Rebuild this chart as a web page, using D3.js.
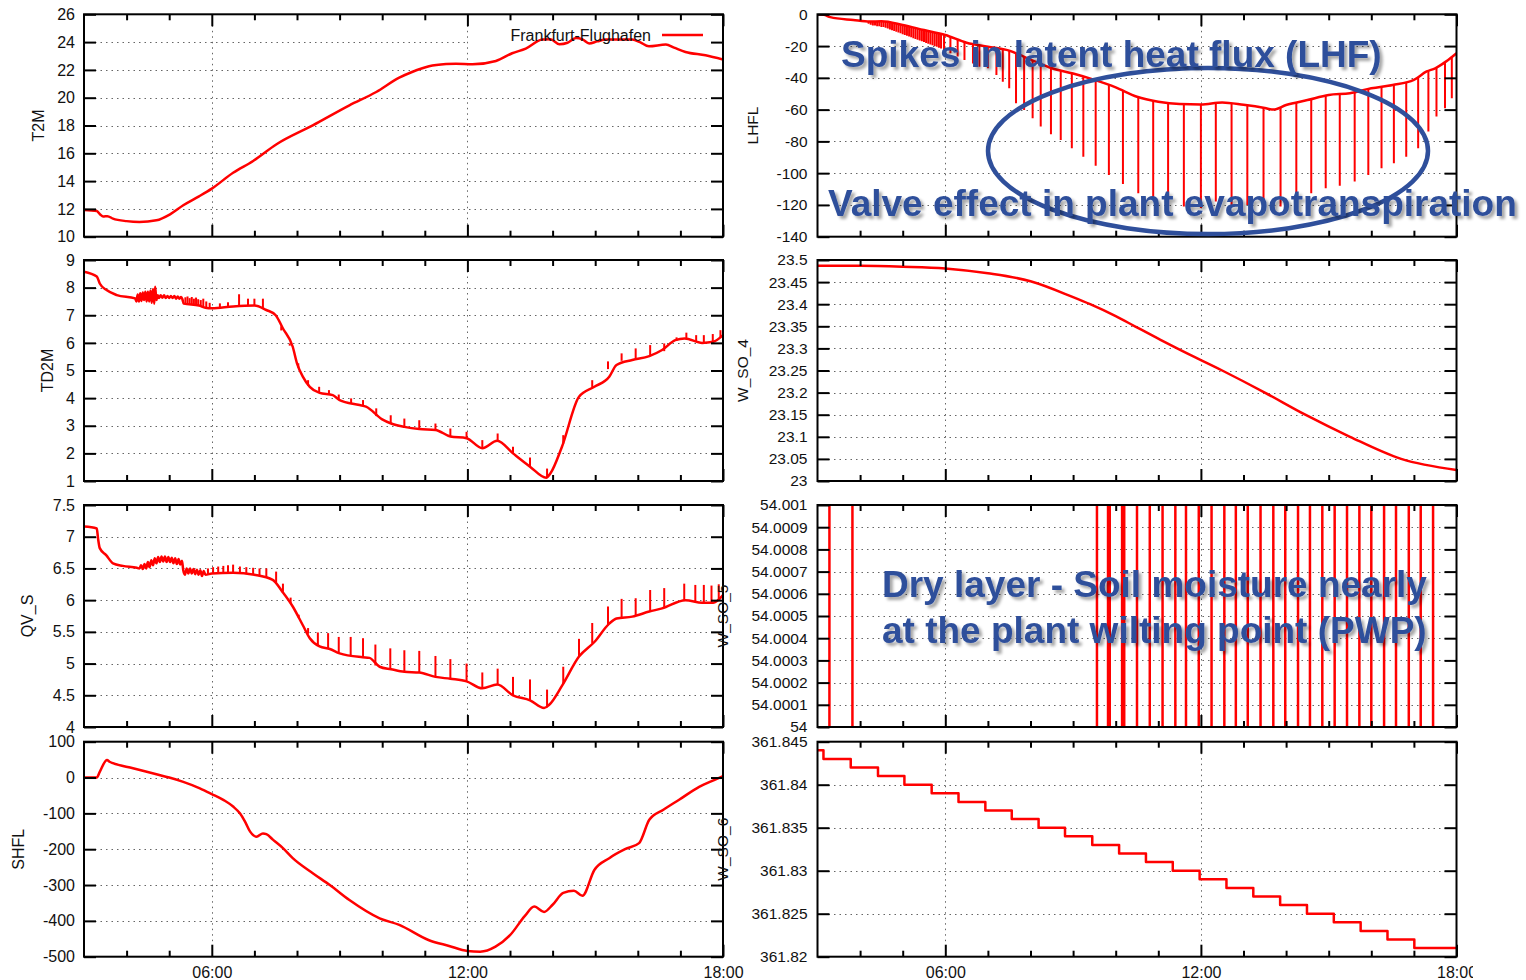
<!DOCTYPE html>
<html>
<head>
  <meta charset="utf-8">
  <title>Frankfurt-Flughafen</title>
  <style>
    body { margin: 0; background: #fff; }
  </style>
</head>
<body>
  <svg id="chart"></svg>
  <script src="https://cdnjs.cloudflare.com/ajax/libs/d3/7.8.5/d3.min.js"></script>
  <script>
    // ---- time axis (hours of the day) ----
    const minorHours = [4, 5, 7, 8, 9, 10, 11, 13, 14, 15, 16, 17];
    const majorHours = [6, 12, 18];
    const hourLabels = ["06:00", "12:00", "18:00"];
    const gridHours = [6, 12];

    // ---- y tick values ----
    const t2mTicks = [10, 12, 14, 16, 18, 20, 22, 24, 26];
    const td2mTicks = [1, 2, 3, 4, 5, 6, 7, 8, 9];
    const qvsTicks = [4, 4.5, 5, 5.5, 6, 6.5, 7, 7.5];
    const shflTicks = [-500, -400, -300, -200, -100, 0, 100];
    const lhflTicks = [-140, -120, -100, -80, -60, -40, -20, 0];
    const wso4Ticks = [23, 23.05, 23.1, 23.15, 23.2, 23.25, 23.3, 23.35, 23.4, 23.45, 23.5];
    const wso5Ticks = [54, 54.0001, 54.0002, 54.0003, 54.0004, 54.0005, 54.0006, 54.0007, 54.0008, 54.0009, 54.001];
    const wso6Ticks = [361.82, 361.825, 361.83, 361.835, 361.84, 361.845];

    // ---- series: [hour, value] ----
    const t2mSeries = [[3,11.92],[3.3,11.85],[3.38,11.6],[3.45,11.45],[3.55,11.48],[3.68,11.3],[4.0,11.12],[4.3,11.06],
      [4.7,11.18],[5.02,11.61],[5.33,12.26],[5.7,12.9],[6.0,13.46],[6.5,14.6],[6.97,15.45],[7.52,16.65],[8.37,18.01],
      [9.23,19.45],[9.86,20.41],[10.4,21.44],[10.7,21.85],[11.1,22.26],[11.5,22.42],[11.73,22.45],[12.12,22.4],
      [12.67,22.64],[13.05,23.2],[13.37,23.53],[13.76,24.18],[13.95,24.2],[14.16,23.84],[14.35,23.95],[14.55,24.3],
      [14.7,24.2],[14.86,23.9],[15.05,24.05],[15.25,24.18],[15.87,24.18],[16.05,24.0],[16.26,23.7],[16.66,23.82],
      [16.85,23.6],[17.12,23.29],[17.59,23.05],[18,22.74]];

    const td2mSeries = [[3,8.58],[3.3,8.4],[3.37,8.15],[3.53,7.91],[3.77,7.73],[4.2,7.61],
      [4.23,7.5],[4.26,7.75],[4.29,7.5],[4.32,7.8],[4.35,7.52],[4.38,7.82],[4.41,7.55],[4.44,7.85],[4.47,7.5],
      [4.5,7.85],[4.53,7.5],[4.56,7.9],[4.59,7.45],[4.62,7.95],[4.65,7.42],[4.67,8.03],[4.7,7.55],[4.73,7.72],
      [4.76,7.62],[4.8,7.72],[4.84,7.63],[4.88,7.72],[4.92,7.62],[4.96,7.7],[5.0,7.62],[5.04,7.7],[5.08,7.62],
      [5.12,7.7],[5.16,7.6],[5.2,7.68],[5.24,7.6],[5.28,7.66],[5.31,7.58],[5.34,7.42],[5.7,7.35],[5.85,7.27],
      [6.0,7.25],[6.5,7.32],[7.0,7.35],[7.28,7.19],[7.5,7.0],[7.67,6.52],[7.9,5.86],[8.0,5.26],[8.14,4.77],
      [8.3,4.41],[8.53,4.19],[8.84,4.11],[9.0,3.93],[9.47,3.75],[9.62,3.69],[10.0,3.23],[10.21,3.08],[10.52,2.96],
      [10.87,2.88],[11.25,2.85],[11.6,2.61],[11.98,2.55],[12.35,2.19],[12.7,2.46],[13.07,2.0],[13.47,1.52],
      [13.85,1.12],[13.95,1.28],[14.22,2.24],[14.62,4.05],[14.98,4.41],[15.33,4.77],[15.5,5.2],[15.87,5.38],
      [16.27,5.52],[16.57,5.74],[16.88,6.1],[17.1,6.16],[17.51,6.0],[17.77,6.04],[18,6.28]];
    // spikes: [hour, value on the curve, tip value]
    const td2mSpikes = [[5.38,7.42,7.65],[5.43,7.41,7.68],[5.48,7.4,7.62],[5.53,7.4,7.66],[5.58,7.38,7.6],
      [5.63,7.37,7.64],[5.68,7.35,7.58],[5.74,7.32,7.55],[5.8,7.3,7.6],[5.87,7.27,7.5],[5.95,7.25,7.45],
      [6.19,7.28,7.43],[6.38,7.3,7.47],[6.64,7.33,7.76],[6.85,7.34,7.6],[7.0,7.35,7.6],[7.2,7.25,7.6],
      [7.63,6.45,6.6],[7.83,5.9,5.98],[8.03,5.1,5.26],[8.26,4.45,4.65],[8.52,4.2,4.41],[8.75,4.12,4.29],
      [8.98,3.95,4.13],[9.27,3.8,3.99],[9.55,3.72,3.93],[9.86,3.35,3.63],[10.2,3.08,3.38],[10.52,2.96,3.26],
      [10.87,2.88,3.2],[11.25,2.82,3.08],[11.6,2.61,2.9],[11.98,2.55,2.78],[12.35,2.19,2.48],[12.71,2.46,2.72],
      [13.07,2.0,2.24],[13.47,1.52,1.85],[13.87,1.12,1.45],[14.25,2.35,2.66],[14.93,4.38,4.65],[15.3,5.05,5.33],
      [15.62,5.35,5.62],[15.95,5.45,5.8],[16.29,5.52,5.92],[16.62,5.7,5.98],[16.91,6.08,6.2],[17.14,6.16,6.37],
      [17.37,6.05,6.28],[17.55,6.0,6.28],[17.76,6.02,6.32],[17.94,6.2,6.46]];

    const qvsSeries = [[3,7.16],[3.3,7.13],[3.33,6.97],[3.37,6.82],[3.52,6.71],[3.68,6.58],[3.91,6.54],[4.24,6.51],
      [4.3,6.5],[4.34,6.55],[4.38,6.49],[4.42,6.57],[4.46,6.5],[4.5,6.6],[4.54,6.52],[4.58,6.63],[4.62,6.55],
      [4.66,6.66],[4.7,6.58],[4.74,6.68],[4.78,6.6],[4.82,6.69],[4.86,6.61],[4.9,6.69],[4.94,6.6],[4.98,6.68],
      [5.02,6.6],[5.06,6.67],[5.1,6.58],[5.14,6.66],[5.18,6.57],[5.22,6.65],[5.26,6.56],[5.3,6.62],[5.33,6.47],
      [5.37,6.4],[5.41,6.5],[5.45,6.42],[5.49,6.5],[5.53,6.42],[5.57,6.49],[5.61,6.41],[5.65,6.48],[5.69,6.4],
      [5.73,6.47],[5.77,6.38],[5.81,6.46],[5.85,6.4],[6.0,6.42],[6.5,6.43],[7.0,6.4],[7.43,6.32],[7.66,6.13],
      [7.9,5.9],[8.14,5.6],[8.3,5.4],[8.53,5.27],[8.77,5.23],[9.0,5.16],[9.54,5.1],[9.7,5.09],[9.94,4.95],
      [10.21,4.91],[10.52,4.87],[10.87,4.86],[11.25,4.79],[11.6,4.76],[11.98,4.72],[12.35,4.61],[12.7,4.67],
      [13.07,4.5],[13.47,4.42],[13.8,4.3],[13.92,4.35],[14.23,4.66],[14.62,5.11],[14.98,5.34],[15.33,5.63],
      [15.5,5.71],[15.87,5.74],[16.27,5.82],[16.57,5.87],[17.12,6.0],[17.51,5.96],[17.77,5.96],[18,6.08]];
    const qvsSpikes = [[5.91,6.41,6.5],[6.03,6.42,6.52],[6.15,6.42,6.53],[6.27,6.42,6.54],[6.38,6.43,6.55],
      [6.5,6.43,6.56],[6.66,6.42,6.53],[6.81,6.41,6.52],[6.97,6.4,6.51],[7.12,6.38,6.5],[7.28,6.35,6.5],
      [7.51,6.28,6.45],[7.67,6.13,6.26],[7.85,5.95,6.04],[8.04,5.72,5.77],[8.26,5.47,5.56],[8.49,5.28,5.49],
      [8.73,5.24,5.48],[8.98,5.17,5.42],[9.26,5.12,5.42],[9.55,5.1,5.4],[9.84,4.97,5.3],[10.19,4.91,5.24],
      [10.52,4.87,5.21],[10.87,4.86,5.2],[11.25,4.79,5.12],[11.6,4.76,5.07],[11.98,4.72,5.0],[12.35,4.61,4.86],
      [12.71,4.67,4.92],[13.07,4.5,4.79],[13.47,4.42,4.75],[13.87,4.31,4.59],[14.25,4.68,4.95],[14.62,5.11,5.39],
      [14.93,5.32,5.64],[15.3,5.6,5.9],[15.62,5.72,6.02],[15.95,5.76,6.03],[16.29,5.82,6.16],[16.62,5.88,6.19],
      [17.09,5.99,6.26],[17.35,5.97,6.24],[17.55,5.96,6.24],[17.73,5.96,6.23],[17.9,6.0,6.25]];

    const shflSeries = [[3,0],[3.3,0],[3.37,16],[3.54,49],[3.6,44],[3.68,40],[4.15,26],[4.7,9],[5.0,0],[5.33,-12],
      [5.72,-30],[6,-46],[6.28,-63],[6.5,-81],[6.66,-100],[6.78,-123],[6.9,-151],[7.05,-165],[7.2,-156],
      [7.28,-158],[7.44,-174],[7.67,-197],[7.9,-225],[8.37,-267],[8.77,-300],[9.23,-342],[9.94,-393],[10.4,-411],
      [11.1,-454],[11.57,-470],[12,-484],[12.3,-486],[12.66,-472],[13,-440],[13.35,-386],[13.57,-360],[13.8,-375],
      [14.0,-355],[14.25,-322],[14.5,-316],[14.7,-330],[14.98,-258],[15.33,-225],[15.7,-200],[16.03,-183],
      [16.27,-118],[16.6,-90],[16.97,-62],[17.44,-26],[17.79,-7],[18,4]];

    const lhflSeries = [[3,0],[3.15,-0.3],[3.3,-1.8],[3.84,-3.6],[4.23,-4.6],[4.5,-4.4],[5,-6.7],[5.5,-9.9],
      [6,-13],[6.5,-17.9],[7,-20.4],[7.5,-22.9],[8,-28.5],[8.5,-34],[9,-37.3],[9.5,-41.3],[10,-46],[10.5,-51.9],
      [11,-55],[11.5,-56.5],[12,-56.8],[12.5,-55.5],[13,-57],[13.5,-59],[13.7,-60],[14,-57.1],[14.5,-54],
      [15,-50.8],[15.5,-49.7],[16,-46.6],[16.5,-44.5],[17,-41.3],[17.3,-36],[17.5,-34],[17.75,-29.8],[18,-24.5]];
    const lhflSpikes = [[4.2,-4.6,-6],[4.25,-4.6,-6.5],[4.3,-4.5,-7],[4.35,-4.5,-7],[4.4,-4.5,-7.5],[4.45,-4.4,-7.5],
      [4.5,-4.4,-8],[4.55,-4.6,-8],[4.6,-4.8,-8.5],[4.65,-5,-9],[4.7,-5.2,-9.5],[4.75,-5.4,-10],[4.8,-5.7,-10.5],
      [4.85,-6,-11],[4.9,-6.2,-11.5],[4.95,-6.5,-12],[5.0,-6.7,-12.5],[5.05,-7,-13],[5.1,-7.3,-13.5],
      [5.15,-7.6,-14],[5.2,-8,-14.5],[5.25,-8.3,-15],[5.3,-8.6,-15.5],[5.35,-9,-16],[5.4,-9.3,-16.5],
      [5.45,-9.6,-17],[5.5,-9.9,-17.5],[5.55,-10.2,-18],[5.6,-10.6,-18.5],[5.65,-11,-19],[5.7,-11.3,-19.5],
      [5.75,-11.7,-20],[5.8,-12,-20.5],[5.85,-12.4,-21],[5.9,-12.7,-21.5],
      [5.97,-13,-22.5],[6.12,-14.5,-24.5],[6.29,-16,-26.6],[6.45,-17.5,-28.8],[6.65,-18.5,-30.9],[6.8,-19.4,-33],
      [7.0,-20.4,-34],[7.2,-21.4,-38.2],[7.35,-22.2,-42.4],[7.5,-22.9,-46.6],[7.66,-24.5,-56],[7.85,-26.8,-60.2],
      [8.05,-29,-65.5],[8.24,-31.2,-70.7],[8.48,-33.8,-75.5],[8.71,-35.5,-79.1],[8.97,-37.3,-84.3],
      [9.24,-39.2,-89.6],[9.53,-41.6,-95.3],[9.84,-44.5,-101.1],[10.17,-47.8,-106.8],[10.53,-52,-112.7],
      [10.88,-54.3,-116.9],[11.23,-55.8,-120],[11.6,-56.6,-121],[12.0,-56.8,-122],[12.35,-55.8,-117.9],
      [12.72,-56,-120],[13.09,-57.3,-120],[13.47,-59,-119],[13.87,-58.3,-121],[14.24,-55.8,-114.8],
      [14.59,-53.5,-112.7],[14.93,-51.2,-109.5],[15.26,-50.2,-108],[15.61,-49.2,-105.3],[15.93,-47,-101.1],
      [16.24,-45.5,-96.9],[16.53,-44.3,-93.7],[16.82,-42.8,-89.6],[17.1,-40,-84.3],[17.34,-35.6,-73.8],
      [17.53,-33.6,-64.4],[17.73,-30.2,-59.1],[17.89,-26.8,-52.8]];

    const wso4Series = [[3,23.487],[4,23.487],[5,23.485],[6,23.481],[7,23.47],[8,23.452],[9,23.416],[9.4,23.4],
      [10,23.373],[10.45,23.35],[11,23.322],[11.5,23.297],[12.5,23.25],[13.5,23.2],[14.45,23.15],[15.5,23.1],
      [16.7,23.05],[18,23.025]];

    // hours where W_SO_5 jumps right through the plotted range
    const wso5Jumps = [3.28, 3.82, 9.56, 9.82, 9.86, 10.15, 10.2, 10.5, 10.8, 11.1, 11.4, 11.65, 11.95, 12.25,
      12.55, 12.82, 13.1, 13.4, 13.7, 13.98, 14.28, 14.56, 14.85, 15.14, 15.43, 15.72, 16.0, 16.3, 16.58, 16.88,
      17.16, 17.45];

    const wso6Series = [[3,361.844],[3.14,361.843],[3.78,361.842],[4.42,361.841],[5.04,361.840],[5.68,361.839],
      [6.31,361.838],[6.94,361.837],[7.56,361.836],[8.19,361.835],[8.81,361.834],[9.45,361.833],[10.08,361.832],
      [10.71,361.831],[11.34,361.830],[11.97,361.829],[12.6,361.828],[13.23,361.827],[13.86,361.826],
      [14.49,361.825],[15.12,361.824],[15.75,361.823],[16.38,361.822],[17.01,361.821],[18,361.821]];

    // ---- layout ----
    const FONT = '"Liberation Sans", Arial, Helvetica, sans-serif';
    const RED = "#ff0000";
    const BLUE = "#2f4f9b";
    const columns = [
      { left: 84, right: 723, font: 16, pad: 9 },
      { left: 817.5, right: 1456.5, font: 15.5, pad: 10 }
    ];
    const rows = [
      { top: 14.3, bottom: 236.7 },
      { top: 260, bottom: 481 },
      { top: 505, bottom: 727 },
      { top: 741.7, bottom: 956.7 }
    ];

    const panels = [
      { col: 0, row: 0, name: "T2M", ticks: t2mTicks, series: t2mSeries, labelX: 38, legend: true },
      { col: 0, row: 1, name: "TD2M", ticks: td2mTicks, series: td2mSeries, spikes: td2mSpikes, labelX: 47 },
      { col: 0, row: 2, name: "QV_S", ticks: qvsTicks, series: qvsSeries, spikes: qvsSpikes, labelX: 27 },
      { col: 0, row: 3, name: "SHFL", ticks: shflTicks, series: shflSeries, labelX: 18 },
      { col: 1, row: 0, name: "LHFL", ticks: lhflTicks, series: lhflSeries, spikes: lhflSpikes, labelX: 752 },
      { col: 1, row: 1, name: "W_SO_4", ticks: wso4Ticks, series: wso4Series, labelX: 742 },
      { col: 1, row: 2, name: "W_SO_5", ticks: wso5Ticks, jumps: wso5Jumps, labelX: 722 },
      { col: 1, row: 3, name: "W_SO_6", ticks: wso6Ticks, series: wso6Series, step: true, labelX: 722 }
    ];

    const svg = d3.select("#chart").attr("width", 1526).attr("height", 980);
    const defs = svg.append("defs");
    defs.append("clipPath").attr("id", "page-clip")
      .append("rect").attr("x", 0).attr("y", 0).attr("width", 1473).attr("height", 980);
    const shadow = defs.append("filter").attr("id", "shadow")
      .attr("x", "-5%").attr("y", "-30%").attr("width", "115%").attr("height", "170%");
    shadow.append("feDropShadow").attr("dx", 3).attr("dy", 3).attr("stdDeviation", 1.6)
      .attr("flood-color", "#000").attr("flood-opacity", 0.35);

    const chart = svg.append("g").attr("clip-path", "url(#page-clip)");

    function styleAxis(a, fontSize) {
      a.select(".domain").remove();
      a.attr("font-family", FONT);
      a.selectAll("line").attr("stroke", "#000").attr("stroke-width", 2);
      a.selectAll("text").attr("font-size", fontSize).attr("fill", "#111");
    }

    panels.forEach((p, i) => {
      const c = columns[p.col], r = rows[p.row];
      const x = d3.scaleLinear().domain([3, 18]).range([c.left, c.right]);
      const y = d3.scaleLinear().domain(d3.extent(p.ticks)).range([r.bottom, r.top]);
      const g = chart.append("g");

      // dotted grid
      const grid = g.append("g").attr("stroke", "#666").attr("stroke-width", 1).attr("stroke-dasharray", "1.5,4");
      grid.selectAll(".h").data(p.ticks.slice(1, -1)).join("line").attr("class", "h")
        .attr("x1", c.left).attr("x2", c.right)
        .attr("y1", d => Math.round(y(d)) + 0.5).attr("y2", d => Math.round(y(d)) + 0.5);
      grid.selectAll(".v").data(gridHours).join("line").attr("class", "v")
        .attr("x1", d => Math.round(x(d)) + 0.5).attr("x2", d => Math.round(x(d)) + 0.5)
        .attr("y1", r.top).attr("y2", r.bottom);

      // key box hides the grid behind it
      if (p.legend) {
        g.append("rect").attr("x", 468).attr("y", r.top + 1).attr("width", c.right - 469).attr("height", 28.5)
          .attr("fill", "#fff");
      }

      // data, clipped to the plot box
      const clipId = "clip" + i;
      defs.append("clipPath").attr("id", clipId).append("rect")
        .attr("x", c.left).attr("y", r.top).attr("width", c.right - c.left).attr("height", r.bottom - r.top);
      const plot = g.append("g").attr("clip-path", `url(#${clipId})`);

      if (p.series) {
        const line = d3.line().x(d => x(d[0])).y(d => y(d[1]))
          .curve(p.step ? d3.curveStepAfter : d3.curveMonotoneX);
        plot.append("path").datum(p.series).attr("d", line)
          .attr("fill", "none").attr("stroke", RED).attr("stroke-width", 2.5).attr("stroke-linejoin", "round");
      }
      if (p.spikes) {
        plot.selectAll(".spike").data(p.spikes).join("line").attr("class", "spike")
          .attr("x1", d => x(d[0])).attr("x2", d => x(d[0]))
          .attr("y1", d => y(d[1])).attr("y2", d => y(d[2]))
          .attr("stroke", RED).attr("stroke-width", 2);
      }
      if (p.jumps) {
        plot.selectAll(".jump").data(p.jumps).join("line").attr("class", "jump")
          .attr("x1", d => x(d)).attr("x2", d => x(d))
          .attr("y1", y(y.domain()[0])).attr("y2", y(y.domain()[1]))
          .attr("stroke", RED).attr("stroke-width", 2.5);
      }

      // axes: inward ticks, mirrored
      g.append("g").attr("transform", `translate(${c.left},0)`)
        .call(d3.axisLeft(y).tickValues(p.ticks).tickSize(-12).tickPadding(c.pad).tickFormat(d => String(d)))
        .call(a => styleAxis(a, c.font));
      g.append("g").attr("transform", `translate(${c.right},0)`)
        .call(d3.axisRight(y).tickValues(p.ticks).tickSize(-12).tickFormat(""))
        .call(a => styleAxis(a, c.font));
      g.append("g").attr("transform", `translate(0,${r.bottom})`)
        .call(d3.axisBottom(x).tickValues(majorHours).tickSize(-12).tickPadding(10)
          .tickFormat((d, k) => p.row === 3 ? hourLabels[k] : ""))
        .call(a => styleAxis(a, 16));
      g.append("g").attr("transform", `translate(0,${r.bottom})`)
        .call(d3.axisBottom(x).tickValues(minorHours).tickSize(-6).tickFormat(""))
        .call(a => styleAxis(a, 16));
      g.append("g").attr("transform", `translate(0,${r.top})`)
        .call(d3.axisTop(x).tickValues(majorHours).tickSize(-12).tickFormat(""))
        .call(a => styleAxis(a, 16));
      g.append("g").attr("transform", `translate(0,${r.top})`)
        .call(d3.axisTop(x).tickValues(minorHours).tickSize(-6).tickFormat(""))
        .call(a => styleAxis(a, 16));

      // frame
      g.append("rect").attr("x", c.left).attr("y", r.top)
        .attr("width", c.right - c.left).attr("height", r.bottom - r.top)
        .attr("fill", "none").attr("stroke", "#000").attr("stroke-width", 2);

      // y label
      g.append("text")
        .attr("transform", `translate(${p.labelX},${(r.top + r.bottom) / 2}) rotate(-90)`)
        .attr("text-anchor", "middle").attr("dominant-baseline", "central")
        .attr("font-family", FONT).attr("font-size", c.font).attr("fill", "#111")
        .text(p.name);

      if (p.legend) {
        g.append("text").attr("x", 651).attr("y", 41).attr("text-anchor", "end")
          .attr("font-family", FONT).attr("font-size", 16).attr("fill", "#111")
          .text("Frankfurt-Flughafen");
        g.append("line").attr("x1", 662).attr("x2", 703).attr("y1", 35).attr("y2", 35)
          .attr("stroke", RED).attr("stroke-width", 2.5);
      }
    });

    // ---- annotations ----
    const notes = svg.append("g");
    notes.append("ellipse").attr("cx", 1208).attr("cy", 151).attr("rx", 220).attr("ry", 83)
      .attr("fill", "none").attr("stroke", BLUE).attr("stroke-width", 4.5);
    const noteText = [
      { x: 841, y: 67, t: "Spikes in latent heat flux (LHF)" },
      { x: 828, y: 216, t: "Valve effect in plant evapotranspiration" },
      { x: 882, y: 597, t: "Dry layer - Soil moisture nearly" },
      { x: 882, y: 643, t: "at the plant wilting point (PWP)" }
    ];
    notes.selectAll("text").data(noteText).join("text")
      .attr("x", d => d.x).attr("y", d => d.y)
      .attr("font-family", FONT).attr("font-weight", "bold").attr("font-size", 37)
      .attr("fill", BLUE).attr("filter", "url(#shadow)")
      .text(d => d.t);
  </script>
</body>
</html>
